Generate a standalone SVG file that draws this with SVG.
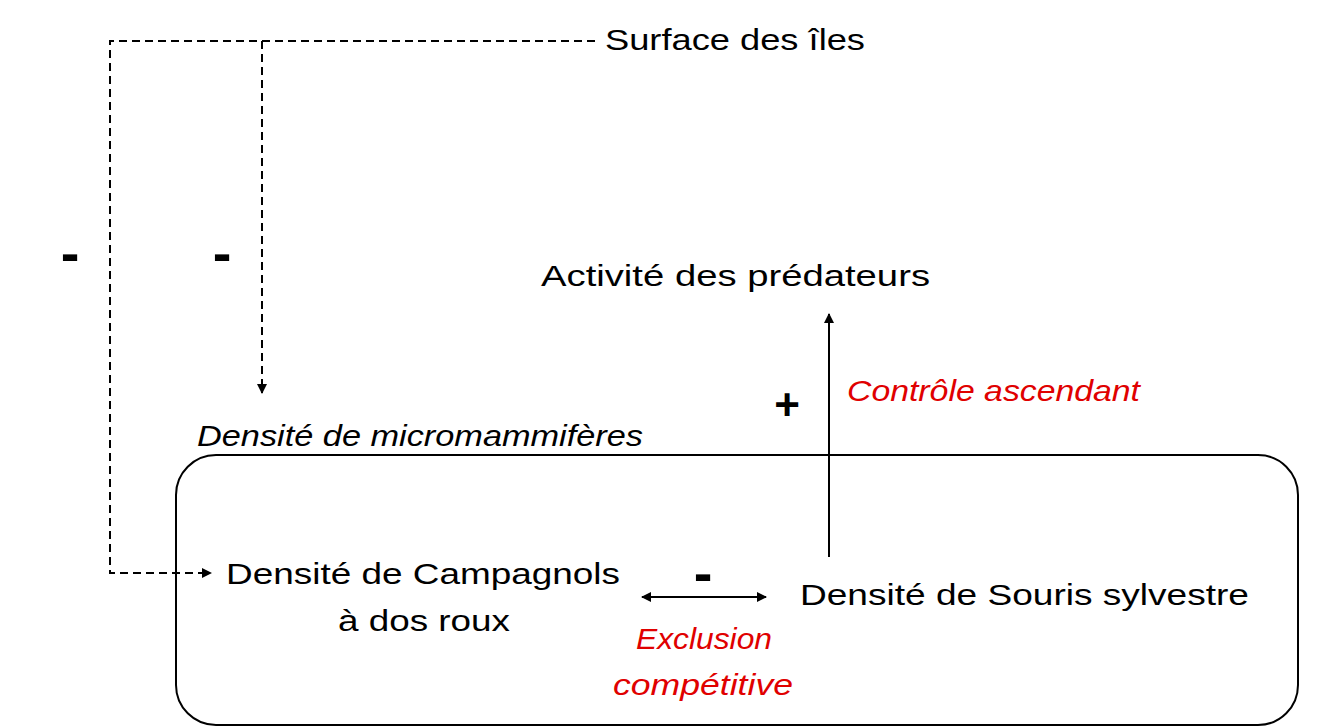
<svg xmlns="http://www.w3.org/2000/svg" width="1339" height="728" viewBox="0 0 1339 728">
<style>
text{font-family:"Liberation Sans",Arial,sans-serif;font-size:30px;fill:#000}
.r{fill:#e00000;font-style:italic}
.i{font-style:italic}
.s{font-weight:bold;font-size:44px}
.m{font-weight:bold;font-size:56px}
.d{stroke:#000;stroke-width:2;fill:none;stroke-dasharray:8,5}
.l{stroke:#000;stroke-width:2;fill:none}
</style>
<defs><marker id="a" markerWidth="10" markerHeight="10" refX="9" refY="5" orient="auto-start-reverse" markerUnits="userSpaceOnUse"><path d="M0,0 L10,5 L0,10 Z" fill="#000"/></marker></defs>
<rect x="176" y="455" width="1122" height="270" rx="40" fill="none" stroke="#000" stroke-width="2"/>
<g id="connectors">
<path class="d" d="M595,41 H110 V573 H211" marker-end="url(#a)"/>
<path class="d" d="M262,41 V393" marker-end="url(#a)"/>
<path class="l" d="M829,557 V314" marker-end="url(#a)"/>
<path class="l" d="M642,597 H766" marker-start="url(#a)" marker-end="url(#a)"/>
</g>
<g id="surface"><text x="605" y="50" textLength="260" lengthAdjust="spacingAndGlyphs">Surface des îles</text></g>
<g id="predateurs"><text x="541" y="286" textLength="389" lengthAdjust="spacingAndGlyphs">Activité des prédateurs</text></g>
<g id="micro"><text class="i" x="197" y="446" font-size="28" textLength="446" lengthAdjust="spacingAndGlyphs">Densité de micromammifères</text></g>
<g id="campagnols"><text x="226" y="584" textLength="394" lengthAdjust="spacingAndGlyphs">Densité de Campagnols</text><text x="338" y="631" textLength="172" lengthAdjust="spacingAndGlyphs">à dos roux</text></g>
<g id="souris"><text x="800" y="605" textLength="449" lengthAdjust="spacingAndGlyphs">Densité de Souris sylvestre</text></g>
<g id="labels">
<text class="r" x="847" y="401" textLength="293" lengthAdjust="spacingAndGlyphs">Contrôle ascendant</text>
<text class="r" x="636" y="649" textLength="136" lengthAdjust="spacingAndGlyphs">Exclusion</text>
<text class="r" x="613" y="695" textLength="180" lengthAdjust="spacingAndGlyphs">compétitive</text>
<text class="s" x="787" y="420" text-anchor="middle">+</text>
<text class="m" x="70" y="272" text-anchor="middle">-</text>
<text class="m" x="222" y="272" text-anchor="middle">-</text>
<text class="m" x="703" y="592" text-anchor="middle">-</text>
</g>
</svg>
